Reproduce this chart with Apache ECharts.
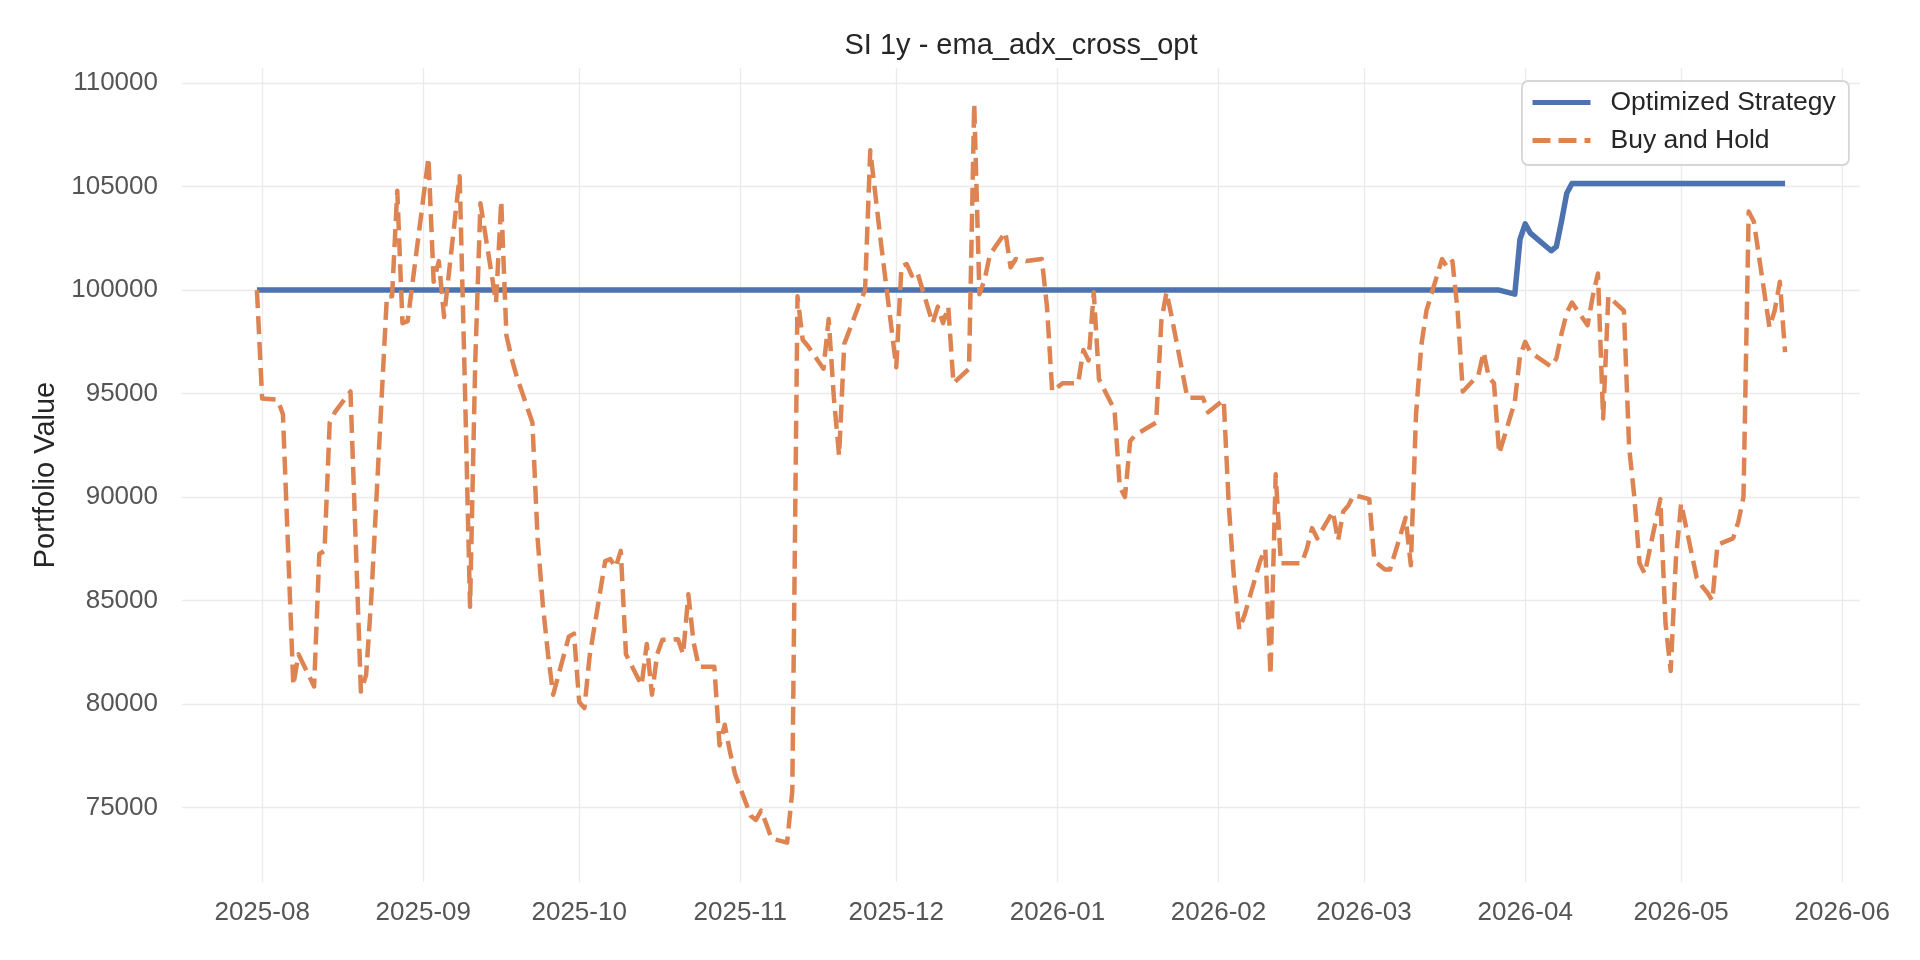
<!DOCTYPE html>
<html>
<head>
<meta charset="utf-8">
<title>SI 1y - ema_adx_cross_opt</title>
<script src="https://cdn.jsdelivr.net/npm/echarts@6/dist/echarts.min.js"></script>
<style>
html, body { margin: 0; padding: 0; background: #fff; }
#chart { width: 1920px; height: 960px; }
</style>
</head>
<body>
<div id="chart"></div>
<script>
// values (vertices of each line)
var bhDates = [
    '2025-07-31', '2025-08-01', '2025-08-04', '2025-08-05', '2025-08-07', '2025-08-08', '2025-08-11', '2025-08-12',
    '2025-08-13', '2025-08-14', '2025-08-15', '2025-08-18', '2025-08-20', '2025-08-21', '2025-08-22', '2025-08-25',
    '2025-08-26', '2025-08-27', '2025-08-28', '2025-08-29', '2025-09-02', '2025-09-03', '2025-09-04', '2025-09-05',
    '2025-09-08', '2025-09-09', '2025-09-10', '2025-09-11', '2025-09-12', '2025-09-15', '2025-09-16', '2025-09-17',
    '2025-09-18', '2025-09-19', '2025-09-22', '2025-09-23', '2025-09-24', '2025-09-25', '2025-09-26', '2025-09-29',
    '2025-09-30', '2025-10-01', '2025-10-02', '2025-10-03', '2025-10-06', '2025-10-07', '2025-10-08', '2025-10-09',
    '2025-10-10', '2025-10-13', '2025-10-14', '2025-10-15', '2025-10-16', '2025-10-17', '2025-10-20', '2025-10-21',
    '2025-10-22', '2025-10-23', '2025-10-24', '2025-10-27', '2025-10-28', '2025-10-29', '2025-10-30', '2025-10-31',
    '2025-11-03', '2025-11-04', '2025-11-05', '2025-11-06', '2025-11-07', '2025-11-10', '2025-11-11', '2025-11-12',
    '2025-11-13', '2025-11-14', '2025-11-17', '2025-11-18', '2025-11-19', '2025-11-20', '2025-11-21', '2025-11-24',
    '2025-11-25', '2025-11-26', '2025-11-28', '2025-12-01', '2025-12-02', '2025-12-03', '2025-12-04', '2025-12-05',
    '2025-12-08', '2025-12-09', '2025-12-10', '2025-12-11', '2025-12-12', '2025-12-15', '2025-12-16', '2025-12-17',
    '2025-12-18', '2025-12-19', '2025-12-22', '2025-12-23', '2025-12-24', '2025-12-26', '2025-12-29', '2025-12-30',
    '2025-12-31', '2026-01-02', '2026-01-05', '2026-01-06', '2026-01-07', '2026-01-08', '2026-01-09', '2026-01-12',
    '2026-01-13', '2026-01-14', '2026-01-15', '2026-01-16', '2026-01-20', '2026-01-21', '2026-01-22', '2026-01-23',
    '2026-01-26', '2026-01-27', '2026-01-28', '2026-01-29', '2026-01-30', '2026-02-02', '2026-02-03', '2026-02-04',
    '2026-02-05', '2026-02-06', '2026-02-09', '2026-02-10', '2026-02-11', '2026-02-12', '2026-02-13', '2026-02-17',
    '2026-02-18', '2026-02-19', '2026-02-20', '2026-02-23', '2026-02-24', '2026-02-25', '2026-02-26', '2026-02-27',
    '2026-03-02', '2026-03-03', '2026-03-04', '2026-03-05', '2026-03-06', '2026-03-09', '2026-03-10', '2026-03-11',
    '2026-03-12', '2026-03-13', '2026-03-16', '2026-03-17', '2026-03-18', '2026-03-19', '2026-03-20', '2026-03-23',
    '2026-03-24', '2026-03-25', '2026-03-26', '2026-03-27', '2026-03-30', '2026-03-31', '2026-04-01', '2026-04-02',
    '2026-04-06', '2026-04-07', '2026-04-08', '2026-04-09', '2026-04-10', '2026-04-13', '2026-04-14', '2026-04-15',
    '2026-04-16', '2026-04-17', '2026-04-20', '2026-04-21', '2026-04-22', '2026-04-23', '2026-04-24', '2026-04-27',
    '2026-04-28', '2026-04-29', '2026-04-30', '2026-05-01', '2026-05-04', '2026-05-05', '2026-05-06', '2026-05-07',
    '2026-05-08', '2026-05-11', '2026-05-12', '2026-05-13', '2026-05-14', '2026-05-15', '2026-05-18', '2026-05-19',
    '2026-05-20', '2026-05-21'
];
var bhValues = [
    100000, 94760, 94700, 94000, 80900, 82400, 80850, 87250,
    87400, 93600, 94100, 95100, 80600, 81400, 85100, 99700,
    99700, 104800, 98400, 98500, 106400, 100400, 101400, 98700,
    105500, 95500, 84700, 96500, 104200, 99400, 104300, 97800,
    96700, 95800, 93600, 88000, 84800, 82400, 80450, 83250,
    83400, 80100, 79800, 82300, 86900, 87000, 86600, 87400,
    82400, 80900, 82900, 80450, 82400, 83100, 83130, 82400,
    85300, 83000, 81800, 81800, 78000, 79000, 77700, 76600,
    74600, 74400, 74850, 74200, 73500, 73300, 75800, 99700,
    97600, 97300, 96200, 98600, 94800, 92000, 97400, 99400,
    100000, 106750, 102400, 96270, 101140, 101260, 100700, 100900,
    98400, 99200, 98400, 99200, 95500, 96200, 109000, 99800,
    100500, 101700, 102800, 101100, 101500, 101400, 101500, 99200,
    95100, 95500, 95500, 97100, 96600, 99900, 95700, 94200,
    90500, 90000, 92700, 93000, 93600, 98500, 99900, 98700,
    94800, 94800, 94800, 94800, 94100, 94700, 89500, 86000,
    83600, 84300, 86900, 87500, 81400, 91100, 86800, 86800,
    87500, 88500, 88000, 89300, 87900, 89300, 89600, 90100,
    89900, 86900, 86700, 86500, 86500, 89000, 86700, 94000,
    97300, 99000, 101500, 101100, 101400, 99000, 95100, 95900,
    97000, 95800, 95500, 92100, 94600, 96800, 97500, 97000,
    96300, 96700, 97900, 98900, 99400, 98300, 99700, 100800,
    93800, 99700, 99000, 92400, 90000, 86800, 86300, 89900,
    83900, 81600, 87000, 89700, 86100, 85700, 85400, 85000,
    87700, 88000, 88800, 90000, 103800, 103300, 98200, 99000,
    100400, 97000
];

var stratDates = [
    '2025-07-31', '2026-03-27', '2026-03-30', '2026-03-31', '2026-04-01', '2026-04-02',
    '2026-04-06', '2026-04-07', '2026-04-08', '2026-04-09', '2026-04-10', '2026-05-21'
];
var stratValues = [
    100000, 100000, 99800, 102450, 103200, 102750,
    101900, 102100, 103340, 104680, 105150, 105150
];

var seriesNames = ['Optimized Strategy', 'Buy and Hold'];
var yRange = [71400, 110730];

var bhData = bhDates.map(function (d, i) { return [d, bhValues[i]]; });
var stratData = stratDates.map(function (d, i) { return [d, stratValues[i]]; });

var FONT = '"Liberation Sans", Arial, sans-serif';
var BLUE = '#4c72b0', ORANGE = '#dd8452';
var DASH = [18, 8];

var myChart = echarts.init(document.getElementById('chart'));

var option = {
    backgroundColor: '#ffffff',
    animation: false,
    title: {
        text: 'SI 1y - ema_adx_cross_opt',
        left: 1021,
        top: 31,
        textAlign: 'center',
        padding: 0,
        textStyle: { fontFamily: FONT, fontSize: 29, fontWeight: 'normal', color: '#262626' }
    },
    legend: {
        // line-only icons, no marker in the middle
        data: [
            { name: seriesNames[0], itemStyle: { opacity: 0 }, lineStyle: { color: BLUE, width: 5, type: 'solid' } },
            { name: seriesNames[1], itemStyle: { opacity: 0 }, lineStyle: { color: ORANGE, width: 5, type: DASH } }
        ],
        orient: 'vertical',
        left: 1522,
        top: 81,
        padding: [8, 13, 11, 8],
        itemGap: 11,
        itemWidth: 58,
        itemHeight: 26,
        backgroundColor: 'rgba(255,255,255,0.85)',
        borderColor: '#d6d6d6',
        borderWidth: 1.8,
        borderRadius: 6,
        textStyle: { fontFamily: FONT, fontSize: 26.5, color: '#262626', padding: [0, 0, 0, 15] }
    },
    grid: { left: 182, right: 60, top: 68, bottom: 78, containLabel: false },
    xAxis: {
        type: 'time',
        min: new Date(2025, 6, 16, 14).getTime(),
        max: new Date(2026, 5, 4, 10).getTime(),
        splitNumber: 12,
        axisLine: { show: false },
        axisTick: { show: false },
        axisLabel: {
            formatter: '{yyyy}-{MM}',
            margin: 18,
            fontFamily: FONT,
            fontSize: 26,
            color: '#555555',
            showMinLabel: false,
            showMaxLabel: false
        },
        splitLine: {
            show: true,
            showMinLine: false,
            showMaxLine: false,
            lineStyle: { color: '#ebebeb', width: 1.3 }
        }
    },
    yAxis: {
        type: 'value',
        min: yRange[0],
        max: yRange[1],
        splitNumber: 8,
        name: 'Portfolio Value',
        nameLocation: 'middle',
        nameGap: 122,
        nameTextStyle: { fontFamily: FONT, fontSize: 29, color: '#262626' },
        axisLine: { show: false },
        axisTick: { show: false },
        axisLabel: {
            margin: 24,
            fontFamily: FONT,
            fontSize: 26,
            color: '#555555',
            showMinLabel: false,
            showMaxLabel: false,
            formatter: function (v) { return String(v); }
        },
        splitLine: {
            show: true,
            showMinLine: false,
            showMaxLine: false,
            lineStyle: { color: '#ebebeb', width: 1.3 }
        }
    },
    series: [{
        name: seriesNames[0],
        type: 'line',
        data: stratData,
        symbol: 'none',
        itemStyle: { color: BLUE },
        lineStyle: { color: BLUE, width: 5.5, join: 'round' },
        z: 2
    }, {
        name: seriesNames[1],
        type: 'line',
        data: bhData,
        symbol: 'none',
        itemStyle: { color: ORANGE },
        lineStyle: { color: ORANGE, width: 4.5, type: DASH, join: 'round' },
        z: 3
    }]
};

myChart.setOption(option);
</script>
</body>
</html>
